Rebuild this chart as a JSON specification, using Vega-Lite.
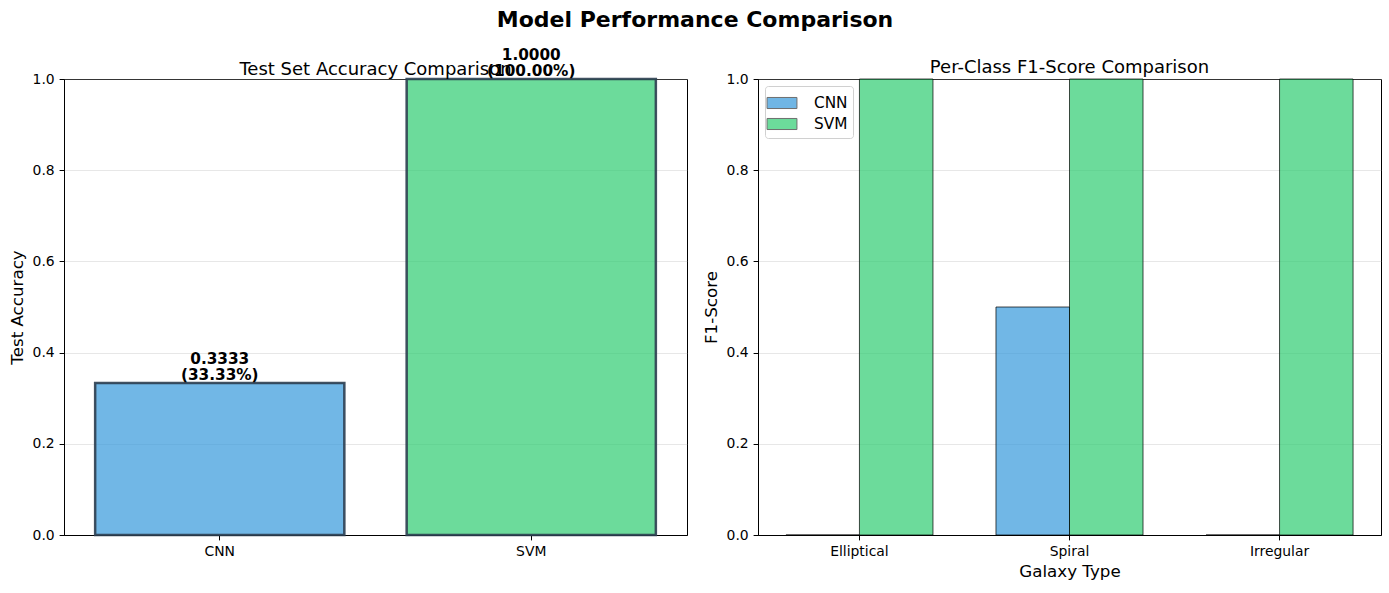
{
  "$schema": "https://vega.github.io/schema/vega-lite/v6.json",
  "padding": {"left": 8, "top": 8, "right": 8, "bottom": 5},
  "title": {"text": "Model Performance Comparison", "fontSize": 22, "fontWeight": "bold", "font": "DejaVu Sans", "anchor": "middle", "color": "black", "offset": 16},
  "config": {
    "font": "DejaVu Sans",
    "view": {"stroke": "black", "strokeWidth": 1},
    "axis": {"labelFont": "DejaVu Sans", "labelFontSize": 13.9, "labelColor": "black", "titleFont": "DejaVu Sans", "titleFontSize": 16.7, "titleFontWeight": "normal", "titleColor": "black", "domainColor": "black", "tickColor": "black", "tickSize": 4.9, "labelPadding": 4.9},
    "title": {"font": "DejaVu Sans", "fontSize": 18, "fontWeight": "normal", "color": "black", "offset": -5},
    "legend": {"labelFont": "DejaVu Sans", "labelFontSize": 15.3, "labelColor": "black"}
  },
  "resolve": {"scale": {"color": "independent"}, "legend": {"color": "independent"}},
  "datasets": {
    "accuracy": [
      {"model": "CNN", "accuracy": 0.3333, "label": "0.3333\n(33.33%)"},
      {"model": "SVM", "accuracy": 1.0, "label": "1.0000\n(100.00%)"}
    ],
    "f1": [
      {"galaxy": "Elliptical", "model": "CNN", "f1": 0.0},
      {"galaxy": "Elliptical", "model": "SVM", "f1": 1.0},
      {"galaxy": "Spiral", "model": "CNN", "f1": 0.5},
      {"galaxy": "Spiral", "model": "SVM", "f1": 1.0},
      {"galaxy": "Irregular", "model": "CNN", "f1": 0.0},
      {"galaxy": "Irregular", "model": "SVM", "f1": 1.0}
    ]
  },
  "spacing": 14,
  "hconcat": [
    {
      "width": 623,
      "height": 456,
      "title": {"text": "Test Set Accuracy Comparison", "dy": 26},
      "data": {"name": "accuracy"},
      "layer": [
        {
          "mark": {"type": "bar", "fillOpacity": 0.7, "stroke": "#2c3e50", "strokeWidth": 2.5, "strokeOpacity": 0.9},
          "encoding": {
            "x": {"field": "model", "type": "nominal", "sort": ["CNN", "SVM"], "scale": {"paddingInner": 0.2, "paddingOuter": 0.1}, "axis": {"title": null, "labelAngle": 0}},
            "y": {"field": "accuracy", "type": "quantitative", "scale": {"domain": [0, 1], "nice": false}, "axis": {"title": "Test Accuracy", "values": [0, 0.2, 0.4, 0.6, 0.8, 1.0], "format": ".1f", "grid": true, "gridColor": "#b0b0b0", "gridOpacity": 0.3, "titlePadding": 6}},
            "color": {"field": "model", "type": "nominal", "scale": {"domain": ["CNN", "SVM"], "range": ["#3498db", "#2ecc71"]}, "legend": null}
          }
        },
        {
          "mark": {"type": "text", "fontSize": 15.3, "fontWeight": "bold", "color": "black", "baseline": "bottom", "lineBreak": "\n", "dy": -16, "lineHeight": 16},
          "encoding": {
            "x": {"field": "model", "type": "nominal", "sort": ["CNN", "SVM"]},
            "y": {"field": "accuracy", "type": "quantitative"},
            "text": {"field": "label"}
          }
        }
      ]
    },
    {
      "width": 623,
      "height": 456,
      "title": "Per-Class F1-Score Comparison",
      "data": {"name": "f1"},
      "mark": {"type": "bar", "fillOpacity": 0.7, "stroke": "black", "strokeWidth": 1, "strokeOpacity": 0.7},
      "encoding": {
        "x": {"field": "galaxy", "type": "nominal", "sort": ["Elliptical", "Spiral", "Irregular"], "scale": {"paddingInner": 0.3, "paddingOuter": 0.133}, "axis": {"title": "Galaxy Type", "labelAngle": 0, "titlePadding": 5}},
        "xOffset": {"field": "model", "type": "nominal", "sort": ["CNN", "SVM"], "scale": {"paddingInner": 0, "paddingOuter": 0}},
        "y": {"field": "f1", "type": "quantitative", "scale": {"domain": [0, 1], "nice": false}, "axis": {"title": "F1-Score", "values": [0, 0.2, 0.4, 0.6, 0.8, 1.0], "format": ".1f", "grid": true, "gridColor": "#b0b0b0", "gridOpacity": 0.3, "titlePadding": 6}},
        "color": {"field": "model", "type": "nominal", "scale": {"domain": ["CNN", "SVM"], "range": ["#3498db", "#2ecc71"]}, "legend": {"title": null, "orient": "top-left", "offset": 7, "fillColor": "white", "strokeColor": "#d0d0d0", "cornerRadius": 3, "padding": 5, "symbolType": "M-1.3,-0.48H1.3V0.48H-1.3Z", "symbolSize": 529, "symbolStrokeColor": "#333333", "symbolStrokeWidth": 1, "symbolOpacity": 0.7, "labelOffset": 20, "rowPadding": 0}}
      }
    }
  ]
}
